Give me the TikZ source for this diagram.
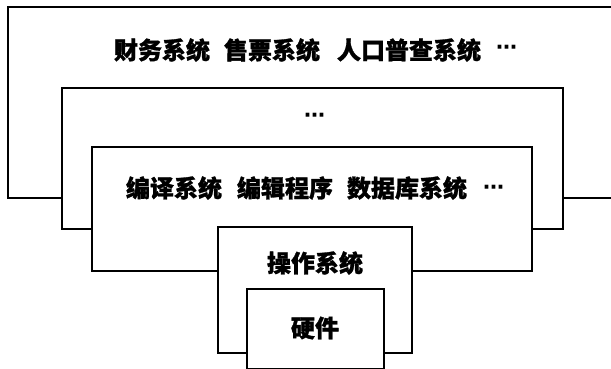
\documentclass[tikz,border=0pt]{standalone}
\usepackage{fontspec}
\newfontfamily\cjk{Noto Sans CJK SC}[BoldFeatures={FakeBold=1.2}]
\newfontfamily\dv{DejaVu Sans}
\tikzset{
  layer/.style={draw=black, line width=2.2pt, line join=miter},
  lbl/.style={inner sep=0pt, outer sep=0pt, font=\cjk\bfseries\fontsize{24}{25}\selectfont, anchor=west},
  dots/.style={inner sep=0pt, outer sep=0pt, font=\dv\bfseries\fontsize{21}{22}\selectfont, anchor=west}
}
\begin{document}
\begin{tikzpicture}[x=1pt,y=-1pt]
\useasboundingbox (0,0) rectangle (611,369);
\clip (0,0) rectangle (611,369);
% corner coordinates
\coordinate (appL) at (8,7);
\coordinate (appR) at (620,198);
\coordinate (midL) at (62,88);
\coordinate (midR) at (563,229);
\coordinate (cmpL) at (92,147);
\coordinate (cmpR) at (532,271);
\coordinate (osL) at (218,227);
\coordinate (osR) at (412,353);
\coordinate (hwL) at (247,289);
\coordinate (hwR) at (384,369);
% application layer
\draw[layer] (midL |- appR) -| (appL) -| (appR) -- (midR |- appR);
% middle layer
\draw[layer] (cmpL |- midR) -| (midL) -| (midR) -- (cmpR |- midR);
% compiler layer
\draw[layer] (osL |- cmpR) -| (cmpL) -| (cmpR) -- (osR |- cmpR);
% operating system layer
\draw[layer] (hwL |- osR) -| (osL) -| (osR) -- (hwR |- osR);
% hardware
\draw[layer] (hwL) rectangle (hwR);
% texts: top line
\node[lbl] (a1) at (114,50) {财务系统};
\node[lbl] (a2) at (224,50) {售票系统};
\node[lbl] (a3) at (337,50) {人口普查系统};
\node[dots] (a4) at (496,50) {⋯};
% middle dots
\node[dots] (m1) at (304,118) {⋯};
% compiler line
\node[lbl] (c1) at (126,188) {编译系统};
\node[lbl] (c2) at (237,188) {编辑程序};
\node[lbl] (c3) at (347,188) {数据库系统};
\node[dots] (c4) at (483,190) {⋯};
% OS and hardware
\node[lbl, anchor=center] (os) at (315,263) {操作系统};
\node[lbl, anchor=center] (hw) at (315,328) {硬件};
\end{tikzpicture}
\end{document}
